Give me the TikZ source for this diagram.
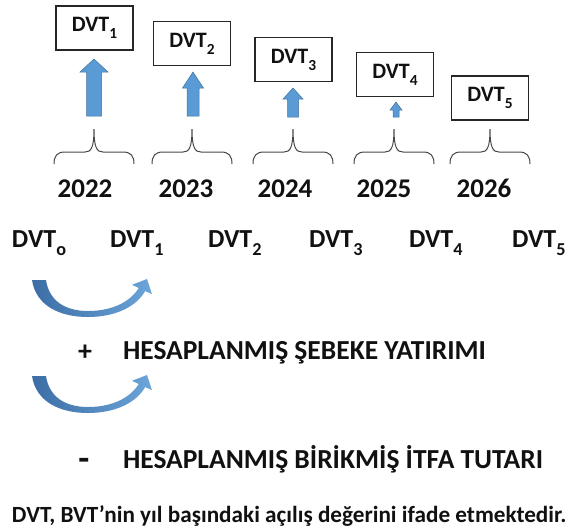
\documentclass[tikz,border=0pt]{standalone}
\usepackage{fontspec}
\setmainfont{Carlito}
\usepackage{graphicx}
\newcommand\sbx[1]{\raisebox{-0.32em}{\scalebox{0.7}{#1}}}
\definecolor{arrblue}{HTML}{5B9BD5}
\definecolor{arredge}{HTML}{41719C}
\definecolor{arrdark}{HTML}{3C6EA5}
\definecolor{txt}{HTML}{111111}
\newcommand\blockarrow[6]{%
  \filldraw[blockarr] (#1,#2) -- (#1+#5,#3) -- (#1+#6,#3) -- (#1+#6,#4) -- (#1-#6,#4) -- (#1-#6,#3) -- (#1-#5,#3) -- cycle;}
\newcommand\ybrace[1]{%
  \draw[bracestyle] (#1-40,164) .. controls (#1-40,156) and (#1-37,152) .. (#1-29,152) -- (#1-9,152) .. controls (#1-3,152) and (#1,148) .. (#1,129) .. controls (#1,148) and (#1+3,152) .. (#1+9,152) -- (#1+29,152) .. controls (#1+37,152) and (#1+40,156) .. (#1+40,164);}
\newcommand\curvedarrow{%
  \shade[curvarr] (32,280) .. controls (36,306) and (60,317) .. (88,317) .. controls (115,317) and (136,307) .. (145.2,291) -- (152,294.3) -- (147,279) -- (132,284.8) -- (138.8,288) .. controls (130,302) and (112,311) .. (88,311) .. controls (64,311) and (49,300) .. (46,280) -- cycle;}
\begin{document}
\begin{tikzpicture}[x=1pt,y=-1pt,
  every node/.style={inner sep=0pt, outer sep=0pt, text=txt},
  dvtbox/.style={draw=black!85, line width=1.1pt, fill=white, minimum width=77pt, minimum height=44pt, font=\bfseries\fontsize{22}{24}\selectfont},
  yearlab/.style={anchor=base, font=\bfseries\fontsize{27}{30}\selectfont},
  dvtlab/.style={anchor=base west, font=\bfseries\fontsize{26}{28}\selectfont},
  linelab/.style={anchor=base west, font=\bfseries\fontsize{27.5}{30}\selectfont},
  signlab/.style={anchor=base, font=\bfseries\fontsize{28}{30}\selectfont},
  notelab/.style={anchor=base west, font=\bfseries\fontsize{23.2}{26}\selectfont},
  blockarr/.style={fill=arrblue, draw=arredge, line width=0.5pt},
  bracestyle/.style={draw=black!72, line width=1pt},
  curvarr/.style={left color=arrdark, right color=arrblue!90, draw=none}
]
\useasboundingbox (0,0) rectangle (568,531);
% boxes
\node[dvtbox] (b1) at (94.5,28) {DVT\sbx{1}};
\node[dvtbox] (b2) at (192,43.5) {DVT\sbx{2}};
\node[dvtbox] (b3) at (293.5,59.5) {DVT\sbx{3}};
\node[dvtbox] (b4) at (395,74.5) {DVT\sbx{4}};
\node[dvtbox] (b5) at (490,98) {DVT\sbx{5}};
% block arrows
\blockarrow{94}{59}{72}{116}{14}{7.5}
\blockarrow{193}{72}{88}{116}{10.5}{6}
\blockarrow{293}{88}{99}{117}{10}{5.5}
\blockarrow{396}{102}{110}{117}{6}{3}
% braces
\ybrace{94}
\ybrace{192}
\ybrace{293}
\ybrace{394}
\ybrace{490}
% years
\node[yearlab] (y1) at (85,197) {2022};
\node[yearlab] (y2) at (186,197) {2023};
\node[yearlab] (y3) at (285,197) {2024};
\node[yearlab] (y4) at (384,197) {2025};
\node[yearlab] (y5) at (484,197) {2026};
% DVT row
\node[dvtlab] (d0) at (12,247) {DVT\sbx{o}};
\node[dvtlab] (d1) at (110,247) {DVT\sbx{1}};
\node[dvtlab] (d2) at (208,247) {DVT\sbx{2}};
\node[dvtlab] (d3) at (309,247) {DVT\sbx{3}};
\node[dvtlab] (d4) at (409,247) {DVT\sbx{4}};
\node[dvtlab] (d5) at (512,247) {DVT\sbx{5}};
% curved arrows
\curvedarrow
\begin{scope}[shift={(0,96)}]
\curvedarrow
\end{scope}
% lines
\node[signlab] (plus) at (85,360) {+};
\node[linelab] (l1) at (123,359) {HESAPLANMIŞ ŞEBEKE YATIRIMI};
\node[signlab, font=\bfseries\fontsize{36}{38}\selectfont] (minus) at (84,470) {-};
\node[linelab] (l2) at (123,468) {HESAPLANMIŞ BİRİKMİŞ İTFA TUTARI};
\node[notelab] (note) at (12,522) {DVT, BVT’nin yıl başındaki açılış değerini ifade etmektedir.};
\end{tikzpicture}
\end{document}
